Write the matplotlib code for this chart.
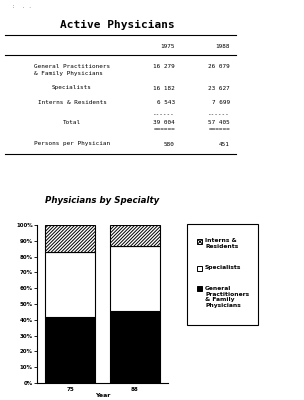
import numpy as np
import matplotlib.pyplot as plt
from matplotlib.patches import Rectangle
from matplotlib.lines import Line2D

years = ['1975', '1988']
short_years = ['75', '88']
rows = ['General Practitioners\n& Family Physicians', 'Specialists', 'Interns & Residents']
gp = [16279, 26079]
spec = [16182, 23627]
interns = [6543, 7699]
persons = [580, 451]


def fmt(v):
    return '{:,}'.format(v).replace(',', ' ')


plt.rcParams['hatch.linewidth'] = 0.7
fig = plt.figure(figsize=(3.04, 4.0), dpi=100)
W, H = 304.0, 400.0


def ftext(x, y, s, **kw):
    fig.text(x / W, 1 - y / H, s, **kw)


def hline(y, x0=5, x1=236):
    fig.add_artist(Line2D([x0 / W, x1 / W], [1 - y / H, 1 - y / H], color='black', lw=0.8))


mono = dict(family='DejaVu Sans Mono', fontsize=4.3, va='center')

# scan specks in the corner
ftext(12, 6, ':', family='DejaVu Sans Mono', fontsize=4, color='0.5', va='center')
ftext(22, 6, '. .', family='DejaVu Sans Mono', fontsize=4, color='0.5', va='center')

ftext(117, 25, 'Active Physicians', family='DejaVu Sans Mono', fontsize=8,
      weight='bold', ha='center', va='center')
hline(35)
ftext(175, 46, years[0], ha='right', **mono)
ftext(230, 46, years[1], ha='right', **mono)
hline(55)

row_y = [70, 88, 102]
for label, y in zip(rows, row_y):
    ftext(72, y, label, ha='center', multialignment='left', linespacing=1.5, **mono)
data_rows = [gp, spec, interns]
for vals, y in zip(data_rows, row_y):
    yy = y - 3.5 if y == row_y[0] else y
    ftext(175, yy, fmt(vals[0]), ha='right', **mono)
    ftext(230, yy, fmt(vals[1]), ha='right', **mono)

totals = [g + s + i for g, s, i in zip(gp, spec, interns)]
ftext(175, 115, '------', ha='right', **mono)
ftext(230, 115, '------', ha='right', **mono)
ftext(72, 123, 'Total', ha='center', **mono)
ftext(175, 123, fmt(totals[0]), ha='right', **mono)
ftext(230, 123, fmt(totals[1]), ha='right', **mono)
ftext(175, 130, '======', ha='right', **mono)
ftext(230, 130, '======', ha='right', **mono)
ftext(72, 144, 'Persons per Physician', ha='center', **mono)
ftext(175, 144, str(persons[0]), ha='right', **mono)
ftext(230, 144, str(persons[1]), ha='right', **mono)
hline(154)

# chart
gp_pct = np.array(gp) / np.array(totals) * 100
spec_pct = np.array(spec) / np.array(totals) * 100
int_pct = np.array(interns) / np.array(totals) * 100

ftext(102, 201, 'Physicians by Specialty', fontsize=6.2, weight='bold', style='italic',
      ha='center', va='center')

ax = fig.add_axes([37 / W, 1 - 383 / H, 131 / W, 158 / H])
x = np.arange(2)
ax.bar(x, gp_pct, 0.77, color='black', edgecolor='black', lw=0.8)
ax.bar(x, spec_pct, 0.77, bottom=gp_pct, color='white', edgecolor='black', lw=0.8)
ax.bar(x, int_pct, 0.77, bottom=gp_pct + spec_pct, color='white', edgecolor='black',
       hatch='//////////', lw=0.8)
ax.set_xlim(-0.51, 1.51)
ax.set_ylim(0, 100)
ax.set_yticks(np.arange(0, 101, 10))
ax.set_yticklabels(['{}%'.format(v) for v in range(0, 101, 10)], fontsize=4, weight='bold')
ax.set_xticks(x)
ax.set_xticklabels(short_years, fontsize=4, weight='bold')
ax.tick_params(axis='y', length=2, width=0.6, pad=1)
ax.tick_params(axis='x', length=0, pad=3)
ax.set_xlabel('Year', fontsize=4.5, weight='bold', labelpad=0.5)
for side in ['top', 'right']:
    ax.spines[side].set_visible(False)
for side in ['left', 'bottom']:
    ax.spines[side].set_linewidth(0.8)

# legend box drawn by hand
fig.add_artist(Rectangle((187 / W, 1 - 325 / H), 71 / W, 101 / H, transform=fig.transFigure,
                         facecolor='white', edgecolor='black', lw=0.8))
leg_labels = ['Interns &\nResidents', 'Specialists', 'General\nPractitioners\n& Family\nPhysicians']
leg_y = [239, 266, 286]
leg_face = ['white', 'white', 'black']
leg_hatch = ['xxxx', None, None]
for lab, y, fc, hc in zip(leg_labels, leg_y, leg_face, leg_hatch):
    fig.add_artist(Rectangle((197 / W, 1 - (y + 5) / H), 5 / W, 5 / H, transform=fig.transFigure,
                             facecolor=fc, edgecolor='black', hatch=hc, lw=0.7))
    ftext(205, y - 0.5, lab, fontsize=4.3, weight='bold', va='top', linespacing=1.25)

fig.savefig('out.png', dpi=100)
